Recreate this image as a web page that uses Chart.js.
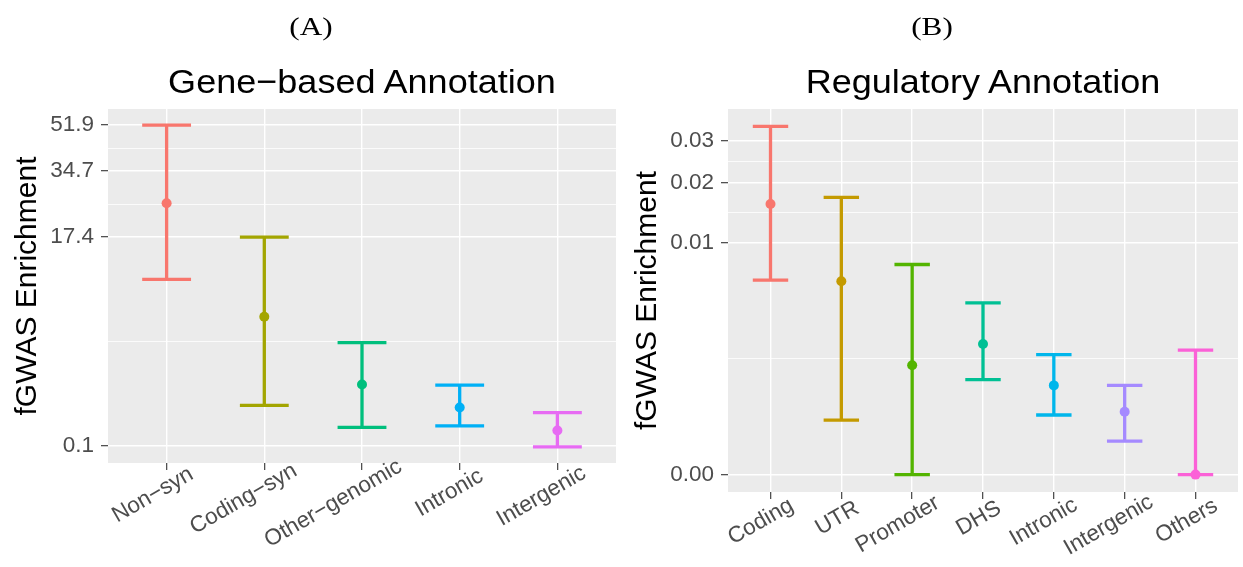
<!DOCTYPE html>
<html>
<head>
<meta charset="utf-8">
<title>fGWAS Enrichment</title>
<script src="https://cdn.jsdelivr.net/npm/chart.js@4.4.0/dist/chart.umd.min.js"></script>
<style>
  html, body { margin: 0; padding: 0; background: #fff; }
  body { width: 1243px; height: 567px; position: relative; overflow: hidden; }
  canvas { position: absolute; top: 0; }
  #chartA { left: 0; }
  #chartB { left: 621px; }
  .tag, .title {
    position: absolute;
    white-space: nowrap;
    line-height: 1;
    color: #000;
  }
  .tag { font-family: "Liberation Serif", "DejaVu Serif", serif; font-size: 26px; transform: translate(-50%, -50%) scaleX(1.2); }
  .title { font-family: "Liberation Sans", Arial, sans-serif; font-size: 34px; transform: translate(-50%, -50%) scaleX(1.06); }
</style>
</head>
<body>
<canvas id="chartA" width="621" height="567"></canvas>
<canvas id="chartB" width="622" height="567"></canvas>
<div class="tag" id="tagA">(A)</div>
<div class="tag" id="tagB">(B)</div>
<div class="title" id="titleA">Gene−based Annotation</div>
<div class="title" id="titleB">Regulatory Annotation</div>

<script>
// Panel A - gene-based annotation
const geneCategories = ['Non−syn', 'Coding−syn', 'Other−genomic', 'Intronic', 'Intergenic'];
const geneMean  = [25.3, 5.65, 1.30, 0.63, 0.243];
const geneLower = [10.1, 0.68, 0.28, 0.30, 0.095];
const geneUpper = [51.9, 17.4, 3.49, 1.28, 0.52];
const geneTickValues = [0.1, 17.4, 34.7, 51.9];
const geneTickLabels = ['0.1', '17.4', '34.7', '51.9'];

// Panel B - regulatory annotation
const regCategories = ['Coding', 'UTR', 'Promoter', 'DHS', 'Intronic', 'Intergenic', 'Others'];
const regMean  = [0.0159, 0.0058, 0.00105, 0.00179, 0.00057, 0.00020, 0];
const regLower = [0.0059, 0.00013, 0, 0.00069, 0.00017, 0.00003, 0];
const regUpper = [0.0339, 0.0171, 0.00745, 0.00407, 0.00139, 0.00057, 0.00155];
const regTickValues = [0, 0.01, 0.02, 0.03];
const regTickLabels = ['0.00', '0.01', '0.02', '0.03'];

const geneColors = ['#F8766D', '#A3A500', '#00BF7D', '#00B0F6', '#E76BF3'];
const regColors  = ['#F8766D', '#C49A00', '#53B400', '#00C094', '#00B6EB', '#A58AFF', '#FB61D7'];

const CAP_HALF = 0.25;   // error bar cap half width, in category units
const FONT = '"Liberation Sans", Arial, sans-serif';

Chart.defaults.font.family = FONT;

// y axis is on a cube-root scale
const cbrt = v => Math.cbrt(v);

// grey panel behind the plot area
const panelBackground = {
    id: 'panelBackground',
    beforeDraw(chart) {
        const { ctx, chartArea: a } = chart;
        ctx.save();
        ctx.fillStyle = '#EBEBEB';
        ctx.fillRect(a.left, a.top, a.right - a.left, a.bottom - a.top);
        ctx.restore();
    }
};

// rotated category labels (ggplot-like placement)
const categoryLabels = {
    id: 'categoryLabels',
    afterDraw(chart, args, opts) {
        const { ctx, chartArea } = chart;
        const xs = chart.scales.x;
        ctx.save();
        ctx.font = '22.5px ' + FONT;
        ctx.fillStyle = '#4D4D4D';
        ctx.textAlign = 'right';
        ctx.textBaseline = 'top';
        opts.labels.forEach((label, i) => {
            const w = ctx.measureText(label).width;
            ctx.save();
            ctx.translate(xs.getPixelForValue(i + 1) + 1, chartArea.bottom + 10.5);
            ctx.rotate(-Math.PI / 6);
            ctx.fillText(label, 0.236 * w, 0);
            ctx.restore();
        });
        ctx.restore();
    }
};

function makePanel(canvasId, cats, mean, lower, upper, tickValues, tickLabels, colors, box) {
    const lo = Math.min(...lower.map(cbrt));
    const hi = Math.max(...upper.map(cbrt));
    const pad = (hi - lo) * 0.05;

    // major ticks with labels, minor ticks halfway between (grid only)
    const yTicks = [];
    tickValues.forEach((v, i) => {
        yTicks.push({ value: cbrt(v), text: tickLabels[i] });
        if (i < tickValues.length - 1) {
            yTicks.push({ value: (cbrt(v) + cbrt(tickValues[i + 1])) / 2, minor: true, text: '' });
        }
    });

    const pointSet = {
        type: 'scatter',
        data: mean.map((m, i) => ({ x: i + 1, y: cbrt(m) })),
        pointRadius: 5,
        pointHoverRadius: 5,
        pointBackgroundColor: colors,
        pointBorderWidth: 0,
        order: 0
    };

    const barSets = cats.map((c, i) => {
        const x = i + 1;
        const top = cbrt(upper[i]);
        const bottom = cbrt(lower[i]);
        return {
            type: 'line',
            data: [
                { x: x - CAP_HALF, y: top }, { x: x + CAP_HALF, y: top }, { x: x, y: null },
                { x: x, y: top }, { x: x, y: bottom }, { x: x, y: null },
                { x: x - CAP_HALF, y: bottom }, { x: x + CAP_HALF, y: bottom }
            ],
            borderColor: colors[i],
            borderWidth: 3.3,
            borderCapStyle: 'butt',
            pointRadius: 0,
            spanGaps: false,
            tension: 0,
            order: 1
        };
    });

    return new Chart(document.getElementById(canvasId), {
        type: 'line',
        data: { datasets: [pointSet, ...barSets] },
        options: {
            responsive: false,
            animation: false,
            devicePixelRatio: 1,
            layout: { padding: { top: box.top, right: box.right, left: 0, bottom: 0 } },
            plugins: {
                legend: { display: false },
                tooltip: { enabled: false },
                categoryLabels: { labels: cats }
            },
            scales: {
                x: {
                    type: 'linear',
                    min: 0.4,
                    max: cats.length + 0.6,
                    afterBuildTicks: axis => { axis.ticks = cats.map((c, i) => ({ value: i + 1 })); },
                    afterFit: axis => { axis.height = box.xHeight; },
                    ticks: { display: false },
                    grid: {
                        color: '#FFFFFF',
                        lineWidth: 1.4,
                        drawTicks: true,
                        tickLength: 7,
                        tickColor: '#333333',
                        tickWidth: 1.1
                    },
                    border: { display: false }
                },
                y: {
                    type: 'linear',
                    min: lo - pad,
                    max: hi + pad,
                    afterBuildTicks: axis => { axis.ticks = yTicks.map(t => Object.assign({}, t)); },
                    afterFit: axis => { axis.width = box.yWidth; },
                    ticks: {
                        autoSkip: false,
                        padding: 7,
                        color: '#4D4D4D',
                        font: { size: 22.5 },
                        callback: (value, index, ticks) => ticks[index].text
                    },
                    grid: {
                        color: '#FFFFFF',
                        lineWidth: c => (c.tick && c.tick.minor ? 0.8 : 1.4),
                        drawTicks: true,
                        tickLength: 7,
                        tickColor: c => (c.tick && c.tick.minor ? 'rgba(0,0,0,0)' : '#333333'),
                        tickWidth: 1.1
                    },
                    border: { display: false },
                    title: {
                        display: true,
                        text: 'fGWAS Enrichment',
                        color: '#000000',
                        font: { size: 30, lineHeight: 1.2 },
                        padding: { top: box.titlePad, bottom: 0 }
                    }
                }
            }
        },
        plugins: [panelBackground, categoryLabels]
    });
}

const chartA = makePanel('chartA', geneCategories, geneMean, geneLower, geneUpper,
    geneTickValues, geneTickLabels, geneColors,
    { top: 109, right: 3, yWidth: 108, xHeight: 104, titlePad: 10 });

const chartB = makePanel('chartB', regCategories, regMean, regLower, regUpper,
    regTickValues, regTickLabels, regColors,
    { top: 109, right: 5, yWidth: 107, xHeight: 75, titlePad: 9 });

// place panel tags and titles
function placeTitles(chart, offset, tagId, titleId) {
    const a = chart.chartArea;
    const tag = document.getElementById(tagId);
    tag.style.left = (offset + chart.width / 2) + 'px';
    tag.style.top = '27px';
    const title = document.getElementById(titleId);
    title.style.left = (offset + (a.left + a.right) / 2) + 'px';
    title.style.top = '81px';
}
placeTitles(chartA, 0, 'tagA', 'titleA');
placeTitles(chartB, 621, 'tagB', 'titleB');
</script>
</body>
</html>
